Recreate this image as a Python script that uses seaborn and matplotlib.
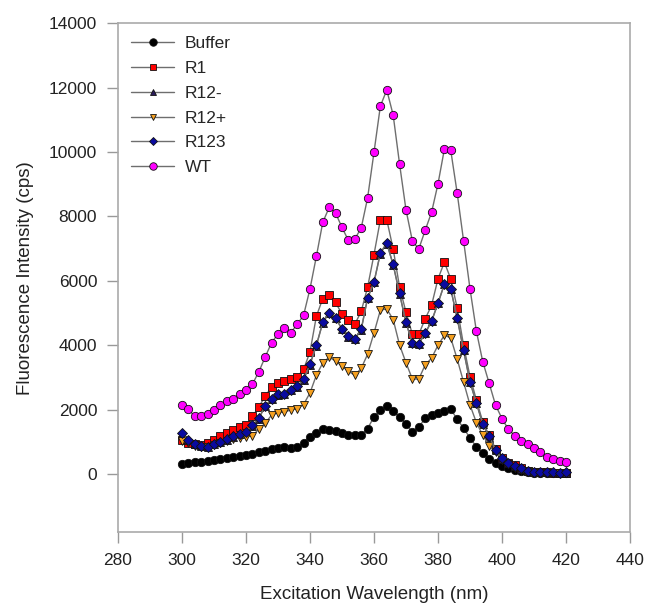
import numpy as np
import pandas as pd
import seaborn as sns
import matplotlib
matplotlib.use("Agg")
import matplotlib.pyplot as plt

wavelength = list(range(300, 421, 2))

buffer_vals = [320, 350, 370, 390, 410, 440, 465, 495, 520, 550,
               590, 620, 670, 720, 790, 820, 850, 800, 840, 980,
               1140, 1290, 1410, 1380, 1330, 1260, 1200, 1210, 1220, 1415,
               1770, 1990, 2110, 1960, 1770, 1560, 1300, 1450, 1740, 1830,
               1900, 1960, 2020, 1700, 1430, 1120, 850, 650, 475, 340,
               260, 180, 135, 80, 55, 45, 40, 35, 30, 30, 30]

r1_vals = [1050, 980, 920, 900, 980, 1060, 1170, 1270, 1370, 1450,
           1520, 1790, 2070, 2430, 2690, 2820, 2890, 2940, 3020, 3250,
           3790, 4900, 5450, 5550, 5330, 4970, 4800, 4650, 5050, 5800,
           6815, 7900, 7900, 6990, 5810, 5030, 4340, 4340, 4820, 5240,
           6060, 6580, 6060, 5160, 4000, 3030, 2300, 1620, 1200, 780,
           500, 350, 270, 180, 110, 75, 55, 50, 45, 40, 40]

r12m_vals = [1240, 1050, 920, 870, 840, 920, 990, 1070, 1160, 1230,
             1300, 1500, 1720, 2100, 2330, 2470, 2490, 2600, 2710, 2930,
             3400, 3990, 4700, 5000, 4840, 4500, 4270, 4190, 4480, 5460,
             5950, 6850, 7160, 6500, 5600, 4700, 4070, 4040, 4370, 4740,
             5300, 5890, 5740, 4840, 3840, 2860, 2200, 1550, 1160, 745,
             480, 335, 250, 170, 100, 68, 50, 50, 50, 33, 48]

r12p_vals = [1030, 960, 880, 830, 850, 900, 980, 1030, 1080, 1130,
             1150, 1190, 1390, 1580, 1830, 1910, 1930, 1990, 2030, 2160,
             2520, 3070, 3450, 3630, 3510, 3360, 3190, 3070, 3280, 3720,
             4380, 5090, 5130, 4800, 4010, 3460, 2950, 2950, 3390, 3600,
             4000, 4310, 4230, 3570, 2860, 2150, 1600, 1210, 880, 670,
             450, 300, 200, 130, 80, 55, 40, 30, 25, 20, 20]

r123_vals = [1260, 1060, 930, 880, 850, 930, 1000, 1080, 1170, 1240,
             1310, 1520, 1735, 2120, 2340, 2480, 2500, 2610, 2720, 2940,
             3410, 4000, 4720, 5010, 4850, 4510, 4280, 4200, 4490, 5470,
             5960, 6870, 7180, 6510, 5610, 4710, 4080, 4050, 4380, 4750,
             5310, 5900, 5750, 4850, 3845, 2870, 2210, 1560, 1170, 753,
             486, 341, 258, 176, 103, 71, 52, 52, 52, 35, 50]

wt_vals = [2140, 2010, 1790, 1790, 1860, 1990, 2140, 2270, 2340, 2480,
           2610, 2790, 3170, 3635, 4080, 4350, 4550, 4390, 4650, 4930,
           5750, 6760, 7820, 8280, 8110, 7660, 7260, 7300, 7640, 8570,
           9990, 11430, 11930, 11150, 9630, 8210, 7240, 6990, 7570, 8130,
           9010, 10090, 10050, 8730, 7250, 5760, 4440, 3490, 2820, 2140,
           1725, 1390, 1190, 1030, 930, 800, 670, 540, 465, 410, 360]

series_names = ["Buffer", "R1", "R12-", "R12+", "R123", "WT"]
series_values = [buffer_vals, r1_vals, r12m_vals, r12p_vals, r123_vals, wt_vals]
face_colors = ["#000000", "#ff0000", "#2b1b5a", "#f5a020", "#0a0aa0", "#ff00ff"]
marker_shapes = ["o", "s", "^", "v", "D", "o"]
marker_sizes = [6.0, 5.2, 5.3, 5.3, 4.6, 6.0]

x_ticks = list(range(280, 441, 20))
y_ticks = list(range(0, 14001, 2000))

sns.set_style("ticks")
plt.rcParams["font.family"] = ["Liberation Sans", "DejaVu Sans"]

fig = plt.figure(figsize=(6.45, 6.12), dpi=100)
ax = fig.add_axes([0.1829, 0.1307, 0.7938, 0.8312])

for name, vals, fc, mk, ms in zip(series_names, series_values, face_colors,
                                  marker_shapes, marker_sizes):
    df = pd.DataFrame({"wavelength": wavelength, "intensity": vals})
    sns.lineplot(data=df, x="wavelength", y="intensity", ax=ax,
                 color="#6e6e6e", linewidth=1.0, marker=mk, markersize=ms,
                 markerfacecolor=fc, markeredgecolor="#111111",
                 markeredgewidth=0.6, label=name, errorbar=None, sort=False)

ax.set_xlim(280, 440)
ax.set_ylim(-1800, 14000)
ax.set_xticks(x_ticks)
ax.set_yticks(y_ticks)
ax.tick_params(axis="both", direction="out", length=8, width=1,
               color="#999999", labelsize=12.5, labelcolor="#222222", pad=7)
for sp in ax.spines.values():
    sp.set_color("#aaaaaa")
    sp.set_linewidth(1.2)

ax.set_xlabel("Excitation Wavelength (nm)", fontsize=13.5, color="#222222",
              labelpad=13)
ax.set_ylabel("Fluorescence Intensity (cps)", fontsize=13.5, color="#222222",
              labelpad=11)

leg = ax.legend(loc="upper left", bbox_to_anchor=(0.0, 1.0), frameon=False,
                fontsize=12.5, handlelength=2.5, handletextpad=0.6,
                labelspacing=0.55, markerscale=0.9, borderaxespad=0.35)

fig.savefig("out.png", dpi=100)
